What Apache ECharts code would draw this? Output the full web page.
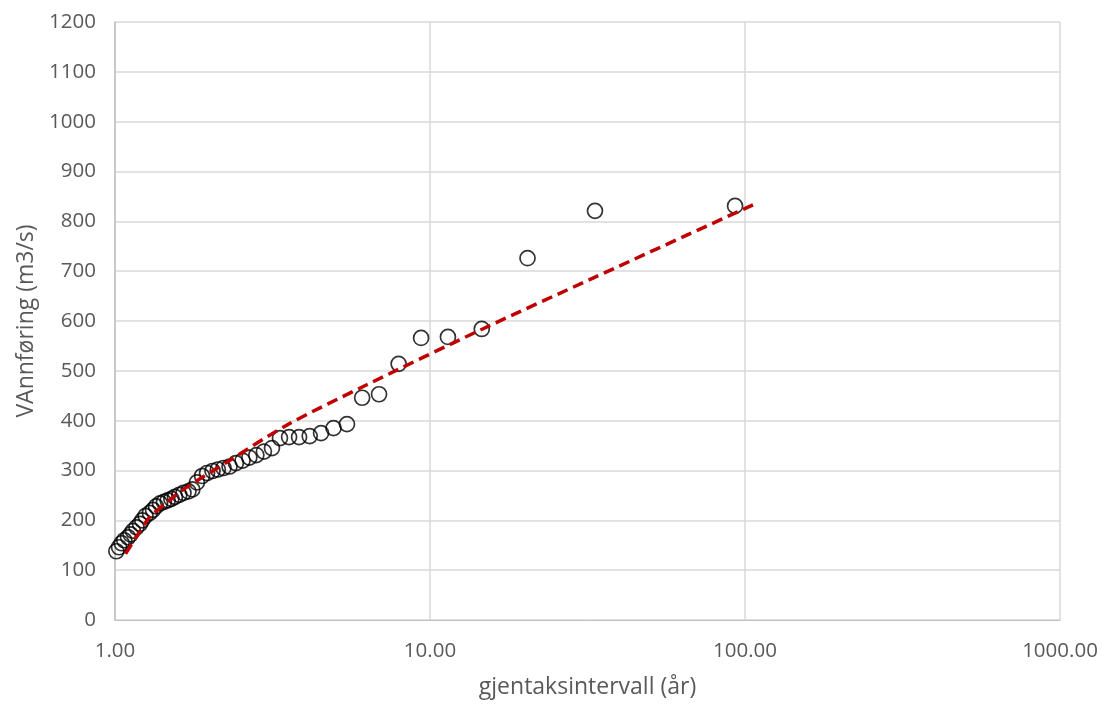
<!DOCTYPE html>
<html>
<head>
<meta charset="utf-8">
<script src="https://cdn.jsdelivr.net/npm/echarts@6/dist/echarts.min.js"></script>
<style>
  html, body { margin: 0; padding: 0; background: #ffffff; }
  #chart { width: 1102px; height: 704px; }
</style>
</head>
<body>
<div id="chart"></div>
<script>
// Observed annual floods: return period (years) and discharge (m3/s)
const returnPeriods = [93, 33.4, 20.4, 14.6, 11.4, 9.37, 7.95, 6.89, 6.09, 5.45,
  4.94, 4.51, 4.15, 3.84, 3.57, 3.34, 3.15, 2.97, 2.81, 2.67,
  2.54, 2.42, 2.31, 2.21, 2.12, 2.04, 1.96, 1.89, 1.82, 1.76,
  1.71, 1.65, 1.60, 1.55, 1.51, 1.47, 1.43, 1.39, 1.35, 1.32,
  1.29, 1.25, 1.22, 1.20, 1.17, 1.14, 1.12, 1.10, 1.07, 1.05,
  1.03, 1.01];
const discharge = [831, 821, 726, 584, 568, 566, 514, 453, 446, 393,
  385, 375, 369, 367, 367, 365, 345, 338, 331, 326,
  320, 315, 308, 305, 302, 299, 295, 289, 276, 262,
  258, 255, 251, 247, 243, 240, 237, 234, 228, 221,
  215, 209, 200, 193, 186, 179, 172, 166, 160, 154,
  146, 138];

// Fitted frequency curve
const trendPeriods = [1.08, 1.2, 1.29, 1.45, 1.64, 2.27, 3.51, 6.3, 14.8, 32.9, 106];
const trendDischarge = [133, 178, 207, 234, 261, 317, 391, 472, 585, 686, 833];

// Axis settings
const xTicks = [1, 10, 100, 1000];
const yMin = 0, yMax = 1200, yStep = 100;

const observed = returnPeriods.map((t, i) => [t, discharge[i]]);
const trend = trendPeriods.map((t, i) => [t, trendDischarge[i]]);

const font = '"Open Sans", "Liberation Sans", sans-serif';
const chart = echarts.init(document.getElementById('chart'), null, { renderer: 'canvas' });

chart.setOption({
  animation: false,
  backgroundColor: '#ffffff',
  grid: { left: 115, right: 42, top: 22, bottom: 84, containLabel: false, outerBoundsMode: 'none' },
  xAxis: {
    type: 'log',
    logBase: 10,
    min: xTicks[0],
    max: xTicks[xTicks.length - 1],
    name: 'gjentaksintervall (år)',
    nameLocation: 'middle',
    nameGap: 56,
    nameTextStyle: { color: '#595959', fontSize: 23, fontFamily: font },
    axisLine: { show: true, lineStyle: { color: '#bfbfbf', width: 1 } },
    axisTick: { show: false },
    axisLabel: {
      color: '#595959', fontSize: 20.5, fontFamily: font, margin: 21,
      formatter: v => Number(v).toFixed(2)
    },
    splitLine: { show: true, lineStyle: { color: '#d9d9d9', width: 1.5 } },
    minorTick: { show: false },
    minorSplitLine: { show: false }
  },
  yAxis: {
    type: 'value',
    min: yMin,
    max: yMax,
    interval: yStep,
    name: 'VAnnføring (m3/s)',
    nameLocation: 'middle',
    nameGap: 76,
    nameTextStyle: { color: '#595959', fontSize: 23, fontFamily: font },
    axisLine: { show: true, lineStyle: { color: '#bfbfbf', width: 1.5 } },
    axisTick: { show: false },
    axisLabel: {
      color: '#595959', fontSize: 20.5, fontFamily: font, margin: 19,
      formatter: v => String(v)
    },
    splitLine: { show: true, lineStyle: { color: '#d9d9d9', width: 1.5 } }
  },
  series: [
    {
      name: 'Observert',
      type: 'scatter',
      data: observed,
      symbol: 'circle',
      symbolSize: 15,
      itemStyle: { color: 'rgba(0,0,0,0)', borderColor: '#000000', borderWidth: 1.7 },
      z: 2
    },
    {
      name: 'Trend',
      type: 'line',
      data: trend,
      smooth: 0.3,
      showSymbol: false,
      symbol: 'none',
      lineStyle: { color: '#c00000', width: 3.5, type: [11, 6], cap: 'butt' },
      z: 3
    }
  ]
});
</script>
</body>
</html>
